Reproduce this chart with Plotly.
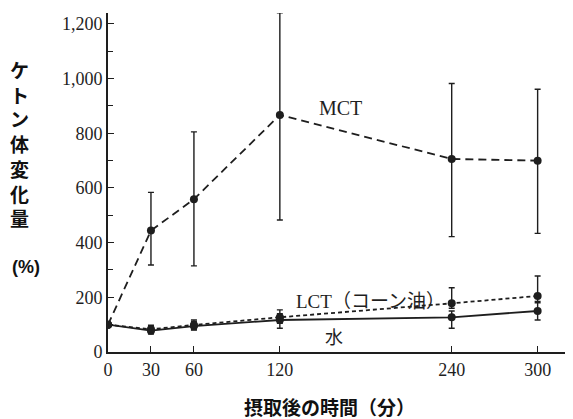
import plotly.graph_objects as go

times = [0, 30, 60, 120, 240, 300]

mct = [100, 444, 559, 867, 706, 700]
mct_hi = [100, 584, 805, 1241, 982, 961]
mct_lo = [100, 318, 315, 483, 422, 434]

lct = [100, 83, 99, 127, 178, 205]
lct_hi = [100, 98, 117, 154, 235, 278]
lct_lo = [100, 70, 82, 105, 160, 185]

water = [100, 78, 95, 117, 127, 150]
water_hi = [100, 92, 112, 140, 150, 180]
water_lo = [100, 66, 80, 87, 87, 117]

x_ticks = [0, 30, 60, 120, 240, 300]
y_ticks = [0, 200, 400, 600, 800, 1000, 1200]
y_labels = ["0", "200", "400", "600", "800", "1,000", "1,200"]

INK = "#1e1e1e"


def err(vals, hi, lo):
    return dict(type="data", symmetric=False,
                array=[h - v for h, v in zip(hi, vals)],
                arrayminus=[v - l for v, l in zip(vals, lo)],
                color=INK, thickness=1.4, width=3)


fig = go.Figure()
fig.add_trace(go.Scatter(x=times, y=water, mode="lines+markers",
                         line=dict(color=INK, width=1.8),
                         marker=dict(color=INK, size=8),
                         error_y=err(water, water_hi, water_lo)))
fig.add_trace(go.Scatter(x=times, y=lct, mode="lines+markers",
                         line=dict(color=INK, width=1.8, dash="4px,3px"),
                         marker=dict(color=INK, size=8),
                         error_y=err(lct, lct_hi, lct_lo)))
fig.add_trace(go.Scatter(x=times, y=mct, mode="lines+markers",
                         line=dict(color=INK, width=1.8, dash="8px,5px"),
                         marker=dict(color=INK, size=8),
                         error_y=err(mct, mct_hi, mct_lo)))

serif = "Liberation Serif"
mixed = "Liberation Serif, Noto Sans CJK JP"
cjk = "Noto Sans CJK JP"

fig.add_annotation(x=162, y=893, text="MCT", showarrow=False,
                   font=dict(family=serif, size=20, color=INK))
fig.add_annotation(x=183, y=184, text="LCT（コーン油）", showarrow=False,
                   font=dict(family=mixed, size=19, color=INK))
fig.add_annotation(x=158, y=58, text="水", showarrow=False,
                   font=dict(family=cjk, size=18, color=INK))

fig.add_annotation(xref="paper", yref="paper", x=-0.19, y=0.878,
                   xanchor="center", yanchor="top", showarrow=False,
                   text="<b>" + "<br>".join("ケトン体変化量") + "</b>",
                   font=dict(family=cjk, size=19, color="#111"))
fig.add_annotation(xref="paper", yref="paper", x=-0.177, y=0.25,
                   xanchor="center", yanchor="middle", showarrow=False,
                   text="<b>(%)</b>",
                   font=dict(family="Liberation Sans", size=18, color="#111"))
fig.add_annotation(xref="paper", yref="paper", x=0.478, y=-0.162,
                   xanchor="center", yanchor="middle", showarrow=False,
                   text="<b>摂取後の時間（分）</b>",
                   font=dict(family=cjk, size=19, color="#111"))

fig.update_layout(
    width=565, height=411,
    margin=dict(l=100, r=1, t=5, b=67),
    paper_bgcolor="white", plot_bgcolor="white",
    showlegend=False,
    font=dict(family=serif, size=18, color=INK),
    xaxis=dict(range=[0, 324], tickvals=x_ticks, ticks="inside", ticklen=6,
               tickwidth=1.4, tickcolor=INK, showline=True, linecolor=INK,
               linewidth=2, showgrid=False, zeroline=False,
               tickfont=dict(family=serif, size=18, color=INK)),
    yaxis=dict(range=[0, 1240], tickvals=y_ticks, ticktext=y_labels,
               ticks="inside", ticklen=6, tickwidth=1.4, tickcolor=INK,
               showline=True, linecolor=INK, linewidth=2, showgrid=False,
               zeroline=False, minor=dict(dtick=100, ticks="inside", ticklen=5,
                                          tickcolor=INK, tickwidth=1.2),
               tickfont=dict(family=serif, size=18, color=INK)),
)

fig.write_html("out.html")
